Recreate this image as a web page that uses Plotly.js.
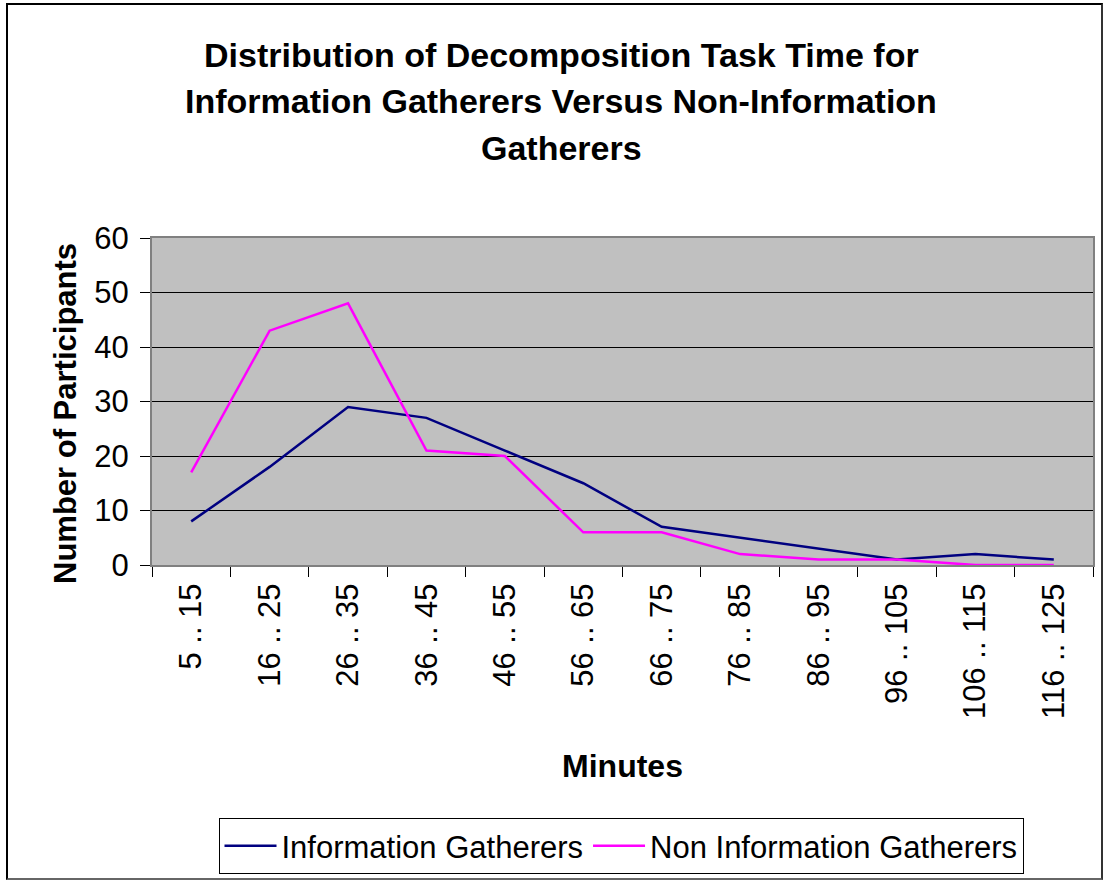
<!DOCTYPE html>
<html>
<head>
<meta charset="utf-8">
<script src="https://cdn.plot.ly/plotly-3.0.1.min.js"></script>
<style>
  html, body { margin: 0; padding: 0; background: #fff; }
  #wrap { position: relative; width: 1104px; height: 880px; }
  #chart { position: absolute; left: 0; top: 0; width: 1104px; height: 880px; }
  #frame { position: absolute; left: 6px; top: 3px; width: 1093px; height: 873px; border: 2px solid #000; border-bottom-color: #666; border-right-color: #333; pointer-events: none; }
</style>
</head>
<body>
<div id="wrap">
  <div id="chart"></div>
  <div id="frame"></div>
</div>
<script>
const categories = ["5 .. 15", "16 .. 25", "26 .. 35", "36 .. 45", "46 .. 55", "56 .. 65",
                    "66 .. 75", "76 .. 85", "86 .. 95", "96 .. 105", "106 .. 115", "116 .. 125"];
const infoGatherers    = [8, 18, 29, 27, 21, 15, 7, 5, 3, 1, 2, 1];
const nonInfoGatherers = [17, 43, 48, 21, 20, 6, 6, 2, 1, 1, 0, 0];
const titleLines = ["Distribution of Decomposition Task Time for",
                    "Information Gatherers Versus Non-Information",
                    "Gatherers"];
const yTitle = "Number of Participants";
const xTitle = "Minutes";

const font = "Liberation Sans, Arial, sans-serif";
const W = 941, H = 327, L = 152, T = 238;
const px = v => (v - L) / W;
const py = v => 1 - (v - T) / H;

const traces = [
  { x: categories, y: infoGatherers, type: "scatter", mode: "lines",
    name: "Information Gatherers", line: { color: "#000080", width: 2.5 } },
  { x: categories, y: nonInfoGatherers, type: "scatter", mode: "lines",
    name: "Non Information Gatherers", line: { color: "#FF00FF", width: 2.5 } }
];

const titleY = [55, 101, 148];
const annotations = titleLines.map((t, i) => ({
  text: "<b>" + t + "</b>", xref: "paper", yref: "paper",
  x: px(561), xanchor: "center", yanchor: "middle",
  y: py(titleY[i]), showarrow: false,
  font: { family: font, size: 34, color: "#000" }
}));
annotations.push({
  text: "<b>" + yTitle + "</b>", xref: "paper", yref: "paper",
  x: px(65), y: py(414), xanchor: "center", yanchor: "middle",
  textangle: -90, showarrow: false,
  font: { family: font, size: 31, color: "#000" }
});

const layout = {
  width: 1104, height: 880,
  margin: { l: L, r: 1104 - L - W, t: T, b: 880 - T - H, autoexpand: false },
  paper_bgcolor: "rgba(0,0,0,0)",
  plot_bgcolor: "#C0C0C0",
  showlegend: true,
  font: { family: font, size: 31, color: "#000" },
  annotations: annotations,
  xaxis: {
    type: "category",
    range: [-0.5, categories.length - 0.5],
    tickangle: -90,
    ticks: "outside", ticklen: 10, tickcolor: "#000", tickwidth: 1,
    tickson: "boundaries",
    ticklabelstandoff: 4,
    showgrid: false,
    showline: true, linecolor: "#808080", linewidth: 2, mirror: true,
    tickfont: { family: font, size: 31, color: "#000" },
    title: { text: "<b>" + xTitle + "</b>", font: { family: font, size: 32, color: "#000" }, standoff: 37 },
    fixedrange: true
  },
  yaxis: {
    range: [0, 60], dtick: 10,
    ticks: "outside", ticklen: 10, tickcolor: "#000", tickwidth: 1,
    ticklabelstandoff: 5,
    showgrid: true, gridcolor: "#000", gridwidth: 1,
    zeroline: false,
    showline: true, linecolor: "#808080", linewidth: 2, mirror: true,
    tickfont: { family: font, size: 31, color: "#000" },
    fixedrange: true
  },
  legend: {
    orientation: "h",
    x: px(621), xanchor: "center",
    y: py(818), yanchor: "top",
    bgcolor: "#fff", bordercolor: "#000", borderwidth: 1,
    font: { family: font, size: 31, color: "#000" },
    itemwidth: 52
  }
};

Plotly.newPlot("chart", traces, layout, { displayModeBar: false, staticPlot: true });
</script>
</body>
</html>
